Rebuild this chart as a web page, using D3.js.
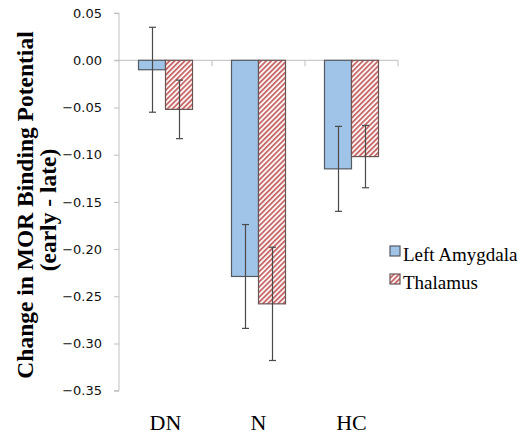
<!DOCTYPE html>
<html>
<head>
<meta charset="utf-8">
<script src="https://cdn.jsdelivr.net/npm/d3@7"></script>
<style>
html,body{margin:0;padding:0;background:#fff;}
svg{display:block;}
</style>
</head>
<body>
<svg id="chart" width="531" height="438"></svg>
<script>
const categories = ["DN", "N", "HC"];
const seriesNames = ["Left Amygdala", "Thalamus"];
const amygdala = [-0.010, -0.229, -0.115];
const amygdalaErr = [0.045, 0.055, 0.045];
const thalamus = [-0.052, -0.258, -0.102];
const thalamusErr = [0.031, 0.060, 0.033];
const yTicks = [0.05, 0.00, -0.05, -0.10, -0.15, -0.20, -0.25, -0.30, -0.35];
const yTitle1 = "Change in MOR Binding Potential";
const yTitle2 = "(early - late)";

const svg = d3.select("#chart");
const defs = svg.append("defs");
const pat = defs.append("pattern")
  .attr("id", "hatch").attr("patternUnits", "userSpaceOnUse")
  .attr("width", 3.6).attr("height", 3.6)
  .attr("patternTransform", "rotate(45)");
pat.append("rect").attr("width", 3.6).attr("height", 3.6).attr("fill", "#ffffff");
pat.append("rect").attr("width", 1.9).attr("height", 3.6).attr("fill", "#c96a6a");

const x0 = d3.scaleBand().domain(categories).range([119, 398]).padding(0);
const x1 = d3.scaleBand().domain(seriesNames).range([0, x0.bandwidth()])
  .paddingInner(0).paddingOuter(0.722);
const y = d3.scaleLinear().domain([-0.35, 0.05]).range([390.7, 13.1]);

const fills = {"Left Amygdala": "#a0c3e8", "Thalamus": "url(#hatch)"};
const strokes = {"Left Amygdala": "#555a60", "Thalamus": "#6a5555"};

// y axis
const yAxis = d3.axisLeft(y).tickValues(yTicks).tickSize(5).tickPadding(12)
  .tickFormat(d3.format(".2f"));
const gy = svg.append("g").attr("transform", "translate(119,0)").call(yAxis);
gy.select(".domain").attr("stroke", "#bfbfbf").attr("d", `M-5,${y(0.05)}H0V${y(-0.35)}H-5`);
gy.selectAll(".tick line").attr("stroke", "#bfbfbf");
gy.selectAll(".tick text").attr("font-family", "DejaVu Sans").attr("font-size", 13).attr("fill", "#111");
gy.selectAll(".tick").filter(d => Math.abs(d) < 1e-9).select("text").text("0.00");

// zero line with category ticks
const gx = svg.append("g").attr("transform", `translate(0,${y(0)})`)
  .call(d3.axisBottom(x0).tickSize(0).tickFormat(""));
gx.select(".domain").remove();
gx.append("line").attr("x1", 114).attr("x2", 398).attr("y1", 0).attr("y2", 0).attr("stroke", "#bfbfbf");
const bounds = categories.map(c => x0(c) + x0.bandwidth());
gx.selectAll("line.ct").data(bounds).join("line").attr("class", "ct")
  .attr("x1", d => d).attr("x2", d => d).attr("y1", 0).attr("y2", 6).attr("stroke", "#bfbfbf");

// bars
const data = [];
categories.forEach((c, i) => {
  data.push({cat: c, s: "Left Amygdala", v: amygdala[i], e: amygdalaErr[i]});
  data.push({cat: c, s: "Thalamus", v: thalamus[i], e: thalamusErr[i]});
});
svg.append("g").selectAll("rect").data(data).join("rect")
  .attr("x", d => x0(d.cat) + x1(d.s))
  .attr("y", d => y(Math.max(0, d.v)))
  .attr("width", x1.bandwidth())
  .attr("height", d => Math.abs(y(d.v) - y(0)))
  .attr("fill", d => fills[d.s])
  .attr("stroke", d => strokes[d.s]).attr("stroke-width", 1.2);

// error bars
const eg = svg.append("g").attr("stroke", "#4a4a4a").attr("stroke-width", 1.2);
data.forEach(d => {
  const cx = x0(d.cat) + x1(d.s) + x1.bandwidth() / 2 + 0.5;
  eg.append("line").attr("x1", cx).attr("x2", cx).attr("y1", y(d.v + d.e)).attr("y2", y(d.v - d.e));
  [d.v + d.e, d.v - d.e].forEach(t => {
    eg.append("line").attr("x1", cx - 3.5).attr("x2", cx + 3.5).attr("y1", y(t)).attr("y2", y(t));
  });
});

// category labels
svg.append("g").selectAll("text").data(categories).join("text")
  .attr("x", d => x0(d) + x0.bandwidth() / 2).attr("y", 430)
  .attr("text-anchor", "middle").attr("font-family", "Liberation Serif")
  .attr("font-size", 22).attr("fill", "#000").text(d => d);

// y title
const tt = svg.append("text").attr("transform", "translate(33,205) rotate(-90)")
  .attr("text-anchor", "middle").attr("font-family", "Liberation Serif")
  .attr("font-weight", "bold").attr("font-size", 23.5).attr("fill", "#000");
tt.append("tspan").attr("x", 0).attr("y", 0).text(yTitle1);
tt.append("tspan").attr("x", -5).attr("y", 23).text(yTitle2);

// legend
const lg = svg.append("g");
seriesNames.forEach((s, i) => {
  const ly = 246 + i * 28;
  lg.append("rect").attr("x", 390).attr("y", ly).attr("width", 10).attr("height", 10)
    .attr("fill", fills[s]).attr("stroke", strokes[s]).attr("stroke-width", 1.2);
  lg.append("text").attr("x", 403).attr("y", ly + 14.5)
    .attr("font-family", "Liberation Serif").attr("font-size", 19).attr("fill", "#000").text(s);
});
</script>
</body>
</html>
